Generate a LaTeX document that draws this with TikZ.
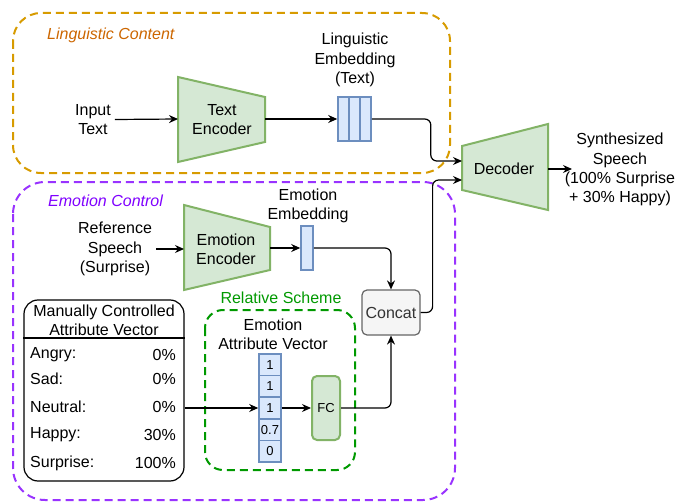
\documentclass[tikz,border=0pt]{standalone}
\usepackage{fontspec}
\setmainfont{Liberation Sans}
\usetikzlibrary{arrows.meta}

\definecolor{encfill}{HTML}{D5E8D4}
\definecolor{encline}{HTML}{82B366}
\definecolor{embfill}{HTML}{DAE8FC}
\definecolor{embline}{HTML}{6C8EBF}
\definecolor{lingline}{HTML}{D79B00}
\definecolor{lingtext}{HTML}{CC6600}
\definecolor{emoline}{HTML}{9933FF}
\definecolor{emotext}{HTML}{7F00FF}
\definecolor{relgreen}{HTML}{009900}
\definecolor{catfill}{HTML}{F5F5F5}
\definecolor{catline}{HTML}{666666}

\begin{document}
\begin{tikzpicture}[x=1pt, y=-1pt,
    every node/.style={font=\fontsize{16}{19.2}\selectfont},
    lbl/.style={inner sep=0pt, align=center},
    arr/.style={-{Stealth[length=9pt,width=8pt,inset=3pt]}, line width=1.2pt, rounded corners=6pt},
    encoder/.style={fill=encfill, draw=encline, line width=2pt, line join=miter},
    embcell/.style={fill=embfill, draw=embline, line width=1.6pt, inner sep=0pt},
    group/.style={dashed, line width=2pt, dash pattern=on 8pt off 5pt},
    smallfont/.style={font=\fontsize{13}{15}\selectfont}]
    \useasboundingbox (0,0) rectangle (678,503);

    % Groupes (boites en pointilles)
    \draw[group, lingline, rounded corners=28pt] (13,13) rectangle (450,173);
    \draw[group, emoline, rounded corners=32pt] (13,182) rectangle (455,500);
    \draw[group, relgreen, rounded corners=18pt] (205,310) rectangle (355,470);
    \node[lbl, anchor=west, lingtext, font=\fontsize{16}{19.2}\selectfont\itshape] (lingtitle) at (47,35) {Linguistic Content};
    \node[lbl, anchor=west, emotext, font=\fontsize{16}{19.2}\selectfont\itshape] (emotitle) at (48,201) {Emotion Control};
    \node[lbl, relgreen] (reltitle) at (281,298) {Relative Scheme};

    % Branche texte
    \node[lbl] (intext) at (93,119.5) {Input\\Text};
    \draw[encoder] (178,77) -- (265,97) -- (265,142) -- (178,162) -- cycle;
    \node[lbl] (txtenc) at (222,119.5) {Text\\Encoder};
    \coordinate (txtenc-in) at (178,119);
    \coordinate (txtenc-out) at (265,119);
    \node[embcell, minimum width=33pt, minimum height=44pt] (lingemb) at (354.5,119) {};
    \foreach \i in {1,2,3}
        \node[embcell, minimum width=11pt, minimum height=44pt] (lingcell\i) at (332.5+11*\i,119) {};
    \node[lbl] (lingemblbl) at (355,60) {Linguistic\\Embedding\\(Text)};

    % Decodeur
    \draw[encoder] (462,146) -- (548,124) -- (548,210) -- (462,190) -- cycle;
    \node[lbl] (decoder) at (504,169) {Decoder};
    \coordinate (dec-in1) at (462,161);
    \coordinate (dec-in2) at (462,180);
    \coordinate (dec-out) at (548,169);
    \node[lbl] (synth) at (620,169.5) {Synthesized\\Speech\\(100\% Surprise\\+ 30\% Happy)};

    % Branche emotion
    \node[lbl] (refsp) at (115,249) {Reference\\Speech\\(Surprise)};
    \draw[encoder] (184,205) -- (270,227) -- (270,270) -- (184,290) -- cycle;
    \node[lbl] (emoenc) at (226,249.5) {Emotion\\Encoder};
    \coordinate (emoenc-in) at (184,249);
    \coordinate (emoenc-out) at (270,248);
    \node[embcell, minimum width=12pt, minimum height=44pt] (emoemb) at (307,248) {};
    \node[lbl] (emoemblbl) at (308,206) {Emotion\\Embedding};
    \node[fill=catfill, draw=catline, line width=1.2pt, rounded corners=5pt,
          minimum width=58pt, minimum height=45pt, text=black!80] (concat) at (391,312.5) {Concat};

    % Vecteur controle manuellement
    \node[draw, line width=1.2pt, rounded corners=14pt, minimum width=160pt, minimum height=181pt] (mcbox) at (104,390.5) {};
    \draw[line width=1.2pt] (mcbox.west |- 0,338) -- (mcbox.east |- 0,338);
    \node[lbl] (mctitle) at (104,320.5) {Manually Controlled\\Attribute Vector};
    \foreach \name/\val/\y [count=\i] in {Angry:/0\%/355, Sad:/0\%/379, Neutral:/0\%/407, Happy:/30\%/435, Surprise:/100\%/463} {
        \node[lbl, anchor=west] (emo\i) at (30,\y) {\name};
        \node[lbl, anchor=east] (pct\i) at (176,\y) {\val};
    }

    % Schema relatif
    \node[lbl] (attrlbl) at (273,334.5) {Emotion\\Attribute Vector};
    \foreach \v [count=\i] in {1,1,1,0.7,0}
        \node[embcell, smallfont, minimum width=22pt, minimum height=21.6pt] (cell\i) at (270,343.2+21.6*\i) {\v};
    \node[fill=encfill, draw=encline, line width=2pt, rounded corners=5pt, smallfont,
          minimum width=28pt, minimum height=64pt, inner sep=0pt] (fc) at (326,408) {FC};

    % Connexions
    \draw[arr] (intext.east) ++(4,0) -- (txtenc-in);
    \draw[arr] (txtenc-out) -- (lingemb.west);
    \draw[arr] (lingemb.east) -- ++(59,0) |- (dec-in1);
    \draw[arr] (dec-out) -- ++(24,0);
    \draw[arr] (refsp.east) ++(4,0) -- (emoenc-in);
    \draw[arr] (emoenc-out) -- (emoemb.west);
    \draw[arr] (emoemb.east) -| (concat.north);
    \draw[arr] (concat.east) -- ++(12,0) |- (dec-in2);
    \draw[arr] (mcbox.east |- cell3.west) -- (cell3.west);
    \draw[arr] (cell3.east) -- (fc.west);
    \draw[arr] (fc.east) -| (concat.south);
\end{tikzpicture}
\end{document}
